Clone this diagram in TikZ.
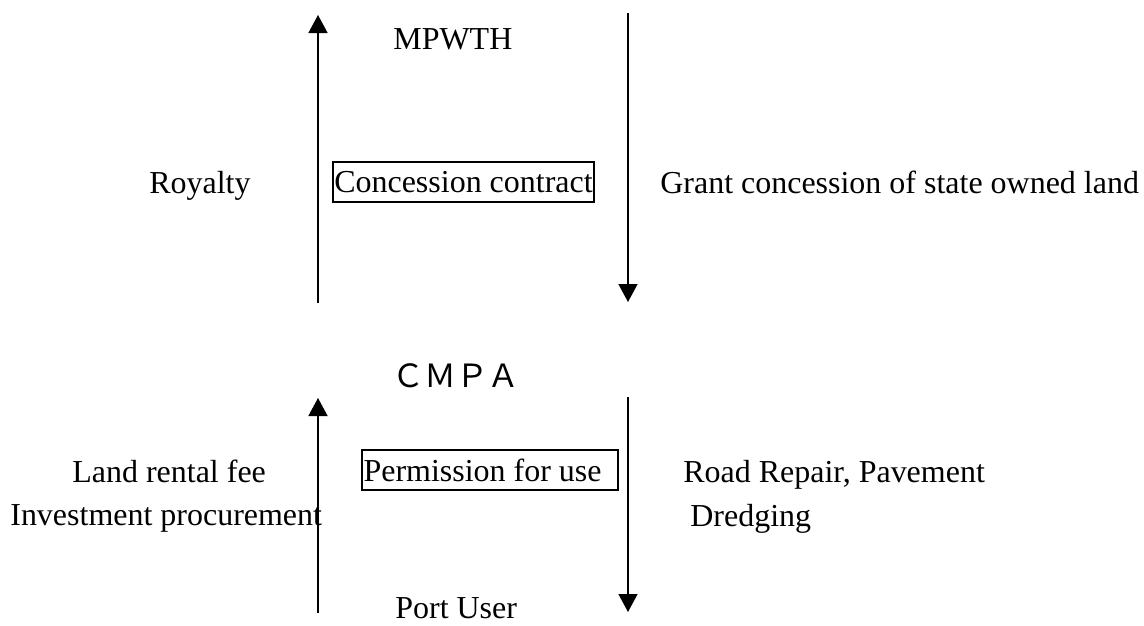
\documentclass[tikz,border=0pt]{standalone}
\usepackage{fontspec}
\setmainfont{Liberation Serif}
\newfontfamily\cjkfont{Noto Sans CJK JP}
\usepackage{tikz}
\usetikzlibrary{arrows.meta}
\usetikzlibrary{positioning}
\tikzset{>={Triangle[width=0.38cm, length=0.36cm]}}
\tikzstyle{lbl} = [inner sep=0, anchor=base west, font=\fontsize{18.2}{22}\selectfont]
\tikzstyle{framed} = [draw=black, line width=1pt, inner sep=0, minimum height=0.8cm, font=\fontsize{18.2}{22}\selectfont]
\tikzstyle{flow} = [->, line width=0.8pt, draw=black]

\begin{document}
\begin{tikzpicture}[x=0.02cm, y=-0.02cm]
\useasboundingbox (0,0) rectangle (1144,626);
% upper level
\node [lbl] (mpwth) at (393,49) {MPWTH};
\node [lbl] (royalty) at (149,193) {Royalty};
\node [framed, minimum width=5.22cm] (contract) at (463.5,182) {Concession contract};
\node [lbl] (grant) at (660,193) {Grant concession of state owned land};
\coordinate (upA) at (318,303);
\coordinate (upB) at (318,15);
\coordinate (downA) at (628,13);
\coordinate (downB) at (628,302);
\draw [flow] (upA) to (upB);
\draw [flow] (downA) to (downB);
% lower level
\node [lbl, anchor=base] (cmpa) at (456,387) {\cjkfont ＣＭＰＡ};
\node [framed, minimum width=5.12cm] (permission) at (490,470) {\makebox[5.06cm][l]{Permission for use}};
\node [lbl] (rental) at (72,482) {Land rental fee};
\node [lbl] (invest) at (10,525) {Investment procurement};
\node [lbl] (repair) at (683,482) {Road Repair, Pavement};
\node [lbl] (dredge) at (690,526) {Dredging};
\node [lbl] (portuser) at (395,618) {Port User};
\coordinate (upC) at (318,613);
\coordinate (upD) at (318,398);
\coordinate (downC) at (628,397);
\coordinate (downD) at (628,612);
\draw [flow] (upC) to (upD);
\draw [flow] (downC) to (downD);
\end{tikzpicture}
\end{document}
